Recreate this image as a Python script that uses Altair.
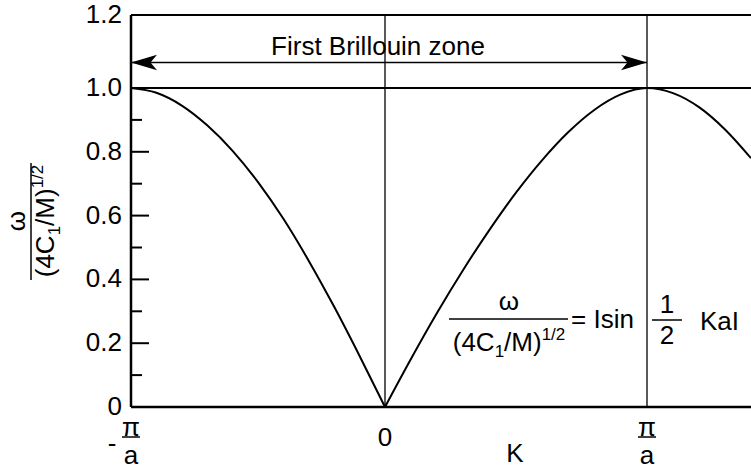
import altair as alt
import pandas as pd

FONT = "Liberation Sans"
W, H = 620, 392          # plot area in pixels
BIG, SMALL = 26, 17      # main and sub/superscript font sizes

# Dispersion curve, K in units of pi/a, omega / (4C1/M)^1/2
k_left = [-1.0, -0.9, -0.8, -0.7, -0.6, -0.5, -0.4, -0.3, -0.2, -0.1, 0.0]
w_left = [1.0, 0.985, 0.945, 0.883, 0.803, 0.705, 0.59, 0.458, 0.314, 0.16, 0.0]
k_right = [0.0, 0.1, 0.2, 0.3, 0.4, 0.5, 0.6, 0.7, 0.8, 0.9, 1.0,
           1.1, 1.2, 1.3, 1.4]
w_right = [0.0, 0.152, 0.297, 0.432, 0.557, 0.672, 0.774, 0.862, 0.932, 0.98, 1.0,
           0.984, 0.94, 0.87, 0.78]

# Axis and guide values
y_labels = [0, 0.2, 0.4, 0.6, 0.8, 1.0, 1.2]
y_label_text = ["0", "0.2", "0.4", "0.6", "0.8", "1.0", "1.2"]
major_ticks = [0.2, 0.4, 0.6, 0.8]
minor_ticks = [0.1, 0.3, 0.5, 0.7, 0.9]
guide_k = [0.0, 1.0]            # K = 0 and K = pi/a
ceiling = [1.0]
zone_k = [-1.0, 1.0]            # first Brillouin zone edges
zone_level = 1.07
fraction_k = [-1.0, 1.0]        # -pi/a and pi/a labels
zero_k = [0.0]

xs = alt.Scale(domain=[-1, 0, 1, 1.4], range=[0, 254, 516, 620], nice=False, zero=False)
ys = alt.Scale(domain=[0, 1.0, 1.2], range=[H, 73, 0], nice=False, zero=False)

one = pd.DataFrame({"i": [0]})


def label(text, x, y, size=BIG, angle=0, align="center", baseline="alphabetic"):
    return alt.Chart(one).mark_text(
        text=text, font=FONT, fontSize=size, angle=angle, align=align,
        baseline=baseline, color="black"
    ).encode(x=alt.value(x), y=alt.value(y))


def hbar(x1, x2, y, width=1.5):
    return alt.Chart(one).mark_rule(color="black", strokeWidth=width).encode(
        x=alt.value(x1), x2=alt.value(x2), y=alt.value(y))


def vbar(x, y1, y2, width=1.5):
    return alt.Chart(one).mark_rule(color="black", strokeWidth=width).encode(
        x=alt.value(x), y=alt.value(y1), y2=alt.value(y2))


def denominator(cx, cy, rotated):
    """(4C_1/M)^1/2 centred on cx; cy is the baseline (baseline x when rotated)."""
    pieces = [("(4C", BIG, 0, 1.611 * BIG), ("1", SMALL, 6, 0.556 * SMALL),
              ("/M)", BIG, 0, 1.444 * BIG), ("1/2", SMALL, -11, 1.39 * SMALL)]
    total = sum(p[3] for p in pieces)
    u = -total / 2
    out = []
    for text, size, v, width in pieces:
        if rotated:
            out.append(label(text, cy + v, cx - u, size=size, angle=270, align="left"))
        else:
            out.append(label(text, cx + u, cy + v, size=size, align="left"))
        u += width
    return out


curve_df = pd.concat([
    pd.DataFrame({"K": k_left, "w": w_left, "branch": "left"}),
    pd.DataFrame({"K": k_right, "w": w_right, "branch": "right"}),
])

curve = alt.Chart(curve_df).mark_line(
    color="black", strokeWidth=2, interpolate="monotone"
).encode(
    x=alt.X("K:Q", scale=xs, axis=None),
    y=alt.Y("w:Q", scale=ys, axis=None),
    detail="branch:N",
)

# axis frame: left and bottom lines, top border
y_axis_line = vbar(0, 0, H, width=2.5)
x_axis_line = hbar(0, W, H, width=2.5)
top_line = hbar(0, W, 0, width=2)

y_tick_labels = alt.Chart(pd.DataFrame({"v": y_labels, "lab": y_label_text})).mark_text(
    font=FONT, fontSize=BIG, color="black", align="right", baseline="middle"
).encode(y=alt.Y("v:Q", scale=ys, axis=None), x=alt.value(-9), text="lab:N")

major = alt.Chart(pd.DataFrame({"t": major_ticks})).mark_rule(color="black", strokeWidth=2).encode(
    y=alt.Y("t:Q", scale=ys, axis=None), x=alt.value(0), x2=alt.value(18))
minor = alt.Chart(pd.DataFrame({"t": minor_ticks})).mark_rule(color="black", strokeWidth=2).encode(
    y=alt.Y("t:Q", scale=ys, axis=None), x=alt.value(0), x2=alt.value(11))

verticals = alt.Chart(pd.DataFrame({"K": guide_k})).mark_rule(color="black", strokeWidth=1.3).encode(
    x=alt.X("K:Q", scale=xs, axis=None), y=alt.value(0), y2=alt.value(H))

unity = alt.Chart(pd.DataFrame({"w": ceiling})).mark_rule(color="black", strokeWidth=2).encode(
    y=alt.Y("w:Q", scale=ys, axis=None), x=alt.value(0), x2=alt.value(W))

zone_df = pd.DataFrame({"k1": [zone_k[0]], "k2": [zone_k[1]], "w": [zone_level]})
shaft = alt.Chart(zone_df).mark_rule(color="black", strokeWidth=1.5).encode(
    x=alt.X("k1:Q", scale=xs, axis=None), x2="k2:Q", y=alt.Y("w:Q", scale=ys, axis=None))
head_left = alt.Chart(zone_df).mark_point(
    shape="M0,0 L2,-0.6 L1.5,0 L2,0.6 Z", size=676, filled=True, color="black", opacity=1, strokeWidth=0
).encode(x=alt.X("k1:Q", scale=xs, axis=None), y=alt.Y("w:Q", scale=ys, axis=None))
head_right = alt.Chart(zone_df).mark_point(
    shape="M0,0 L-2,-0.6 L-1.5,0 L-2,0.6 Z", size=676, filled=True, color="black", opacity=1, strokeWidth=0
).encode(x=alt.X("k2:Q", scale=xs, axis=None), y=alt.Y("w:Q", scale=ys, axis=None))
zone_text = label("First Brillouin zone", 247, 40)

# x-axis labels: -pi/a, 0, pi/a and the K title
frac_df = pd.DataFrame({"K": fraction_k})
pi_text = alt.Chart(frac_df).mark_text(text="π", font=FONT, fontSize=BIG, color="black").encode(
    x=alt.X("K:Q", scale=xs, axis=None), y=alt.value(413))
a_text = alt.Chart(frac_df).mark_text(text="a", font=FONT, fontSize=BIG, color="black").encode(
    x=alt.X("K:Q", scale=xs, axis=None), y=alt.value(441))
frac_bar = alt.Chart(frac_df).mark_point(
    shape="M-1,0 L1,0", size=324, filled=False, color="black", opacity=1, strokeWidth=1.5
).encode(x=alt.X("K:Q", scale=xs, axis=None), y=alt.value(422))
minus = alt.Chart(pd.DataFrame({"K": fraction_k[:1]})).mark_text(
    text="-", font=FONT, fontSize=BIG, color="black", dx=-19).encode(
    x=alt.X("K:Q", scale=xs, axis=None), y=alt.value(429))
zero_text = alt.Chart(pd.DataFrame({"K": zero_k})).mark_text(
    text="0", font=FONT, fontSize=BIG, color="black").encode(
    x=alt.X("K:Q", scale=xs, axis=None), y=alt.value(423))
k_title = label("K", 384, 447)

# rotated y-axis title: omega over (4C1/M)^1/2
y_title = [label("ω", -106, 206, angle=270), vbar(-100, 148, 265)] + denominator(206, -77, True)

# equation inside the plot
equation = [
    label("ω", 378, 295),
    hbar(318, 437, 304),
    *denominator(378, 336, False),
    label("= Isin", 440, 313, align="left"),
    label("1", 536, 298),
    hbar(521, 551, 305),
    label("2", 536, 329),
    label("KaI", 569, 315, align="left"),
]

chart = alt.layer(
    curve, y_axis_line, x_axis_line, top_line, y_tick_labels, major, minor, verticals, unity,
    shaft, head_left, head_right, zone_text,
    pi_text, a_text, frac_bar, minus, zero_text, k_title, *y_title, *equation,
).properties(
    width=W, height=H,
    autosize=alt.AutoSizeParams(type="none"),
    padding={"left": 131, "top": 15, "right": 0, "bottom": 66},
).configure_view(stroke=None)

chart.save("out.html", embed_options={"renderer": "svg", "actions": False})
